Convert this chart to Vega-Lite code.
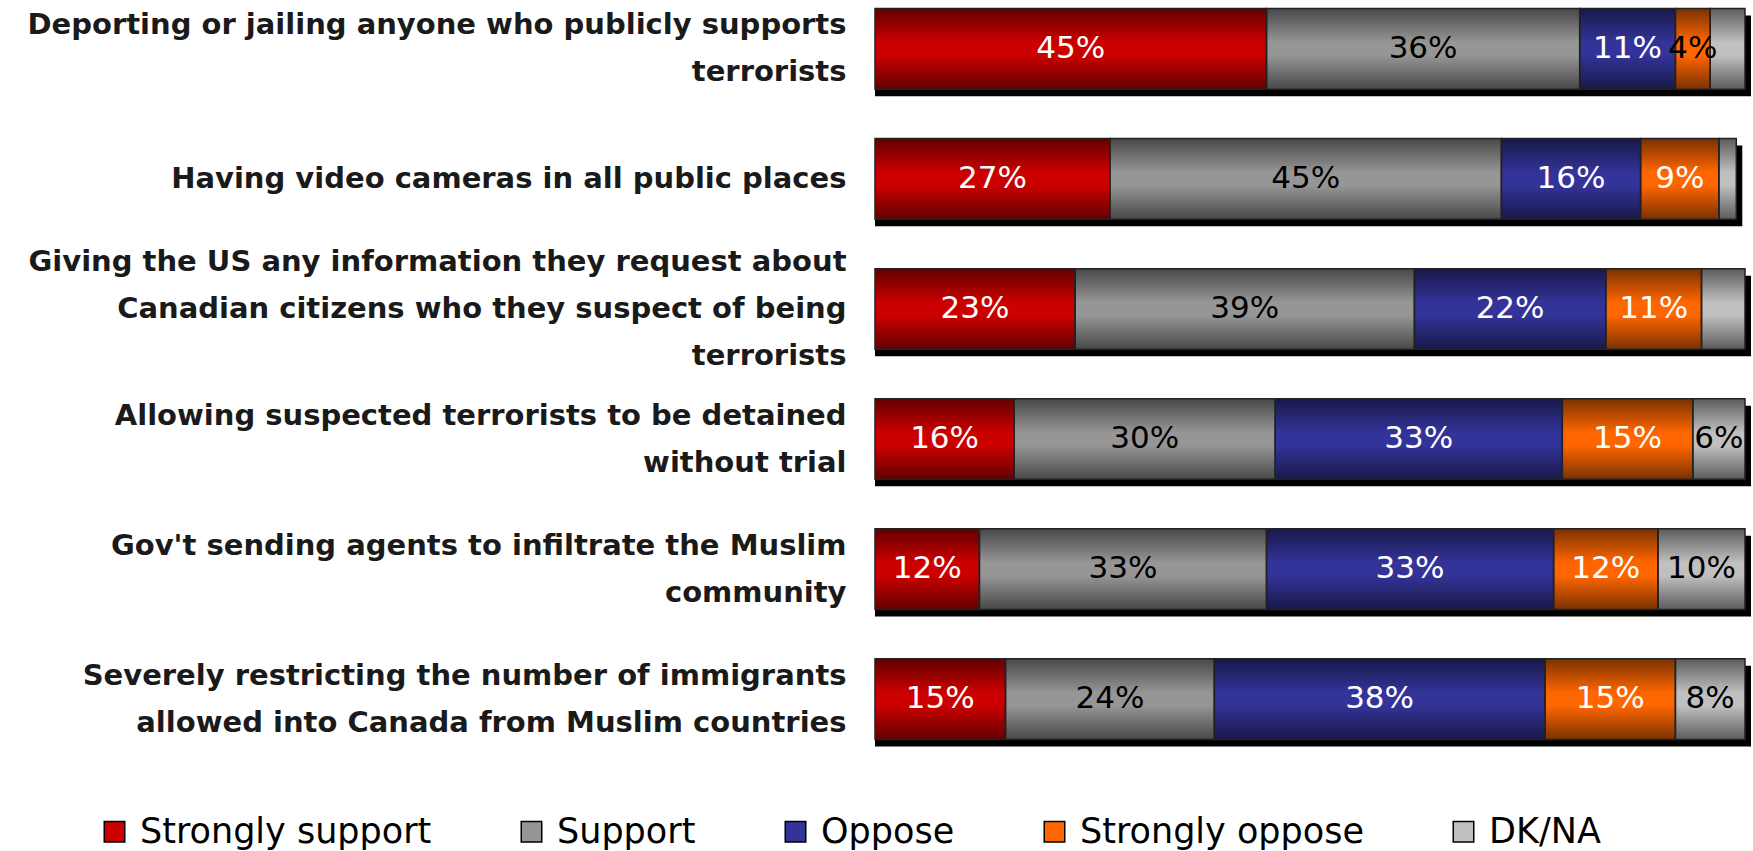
{
  "$schema": "https://vega.github.io/schema/vega-lite/v6.json",
  "autosize": {"type": "none"},
  "padding": {"left": 875, "top": 2, "right": 8, "bottom": 105},
  "width": 870,
  "height": 744,
  "background": "white",
  "config": {"view": {"stroke": null}, "font": "DejaVu Sans"},
  "data": {
    "values": [
      {"q": "Deporting or jailing anyone who publicly supports|terrorists", "cat": "Strongly support", "k": 1, "value": 45},
      {"q": "Deporting or jailing anyone who publicly supports|terrorists", "cat": "Support", "k": 2, "value": 36},
      {"q": "Deporting or jailing anyone who publicly supports|terrorists", "cat": "Oppose", "k": 3, "value": 11},
      {"q": "Deporting or jailing anyone who publicly supports|terrorists", "cat": "Strongly oppose", "k": 4, "value": 4},
      {"q": "Deporting or jailing anyone who publicly supports|terrorists", "cat": "DK/NA", "k": 5, "value": 4},
      {"q": "Having video cameras in all public places", "cat": "Strongly support", "k": 1, "value": 27},
      {"q": "Having video cameras in all public places", "cat": "Support", "k": 2, "value": 45},
      {"q": "Having video cameras in all public places", "cat": "Oppose", "k": 3, "value": 16},
      {"q": "Having video cameras in all public places", "cat": "Strongly oppose", "k": 4, "value": 9},
      {"q": "Having video cameras in all public places", "cat": "DK/NA", "k": 5, "value": 2},
      {"q": "Giving the US any information they request about|Canadian citizens who they suspect of being|terrorists", "cat": "Strongly support", "k": 1, "value": 23},
      {"q": "Giving the US any information they request about|Canadian citizens who they suspect of being|terrorists", "cat": "Support", "k": 2, "value": 39},
      {"q": "Giving the US any information they request about|Canadian citizens who they suspect of being|terrorists", "cat": "Oppose", "k": 3, "value": 22},
      {"q": "Giving the US any information they request about|Canadian citizens who they suspect of being|terrorists", "cat": "Strongly oppose", "k": 4, "value": 11},
      {"q": "Giving the US any information they request about|Canadian citizens who they suspect of being|terrorists", "cat": "DK/NA", "k": 5, "value": 5},
      {"q": "Allowing suspected terrorists to be detained|without trial", "cat": "Strongly support", "k": 1, "value": 16},
      {"q": "Allowing suspected terrorists to be detained|without trial", "cat": "Support", "k": 2, "value": 30},
      {"q": "Allowing suspected terrorists to be detained|without trial", "cat": "Oppose", "k": 3, "value": 33},
      {"q": "Allowing suspected terrorists to be detained|without trial", "cat": "Strongly oppose", "k": 4, "value": 15},
      {"q": "Allowing suspected terrorists to be detained|without trial", "cat": "DK/NA", "k": 5, "value": 6},
      {"q": "Gov't sending agents to infiltrate the Muslim|community", "cat": "Strongly support", "k": 1, "value": 12},
      {"q": "Gov't sending agents to infiltrate the Muslim|community", "cat": "Support", "k": 2, "value": 33},
      {"q": "Gov't sending agents to infiltrate the Muslim|community", "cat": "Oppose", "k": 3, "value": 33},
      {"q": "Gov't sending agents to infiltrate the Muslim|community", "cat": "Strongly oppose", "k": 4, "value": 12},
      {"q": "Gov't sending agents to infiltrate the Muslim|community", "cat": "DK/NA", "k": 5, "value": 10},
      {"q": "Severely restricting the number of immigrants|allowed into Canada from Muslim countries", "cat": "Strongly support", "k": 1, "value": 15},
      {"q": "Severely restricting the number of immigrants|allowed into Canada from Muslim countries", "cat": "Support", "k": 2, "value": 24},
      {"q": "Severely restricting the number of immigrants|allowed into Canada from Muslim countries", "cat": "Oppose", "k": 3, "value": 38},
      {"q": "Severely restricting the number of immigrants|allowed into Canada from Muslim countries", "cat": "Strongly oppose", "k": 4, "value": 15},
      {"q": "Severely restricting the number of immigrants|allowed into Canada from Muslim countries", "cat": "DK/NA", "k": 5, "value": 8}
    ]
  },
  "encoding": {
    "y": {
      "field": "q", "type": "nominal", "sort": null,
      "scale": {"paddingInner": 0.38, "paddingOuter": 0.05},
      "axis": {
        "title": null, "domain": false, "ticks": false,
        "labelExpr": "split(datum.value, '|')",
        "labelFontSize": 29, "labelFontWeight": "bold", "labelColor": "#1a1a1a", "labelPadding": 29,
        "labelLineHeight": 47, "labelLimit": 0, "labelFont": "DejaVu Sans",
        "labelBaseline": "middle",
        "labelOffset": {
          "condition": [
            {"test": "length(split(datum.value, '|')) == 3", "value": -47},
            {"test": "length(split(datum.value, '|')) == 2", "value": -23.5}
          ],
          "value": 0
        }
      }
    }
  },
  "layer": [
    {
      "mark": {"type": "bar", "fill": "#000", "xOffset": 6, "yOffset": 7},
      "encoding": {
        "x": {"aggregate": "sum", "field": "value", "type": "quantitative", "scale": {"domain": [0, 100]}, "axis": null}
      }
    },
    {
      "mark": {"type": "bar"},
      "encoding": {
        "x": {"field": "value", "type": "quantitative", "stack": "zero", "scale": {"domain": [0, 100]}, "axis": null},
        "order": {"field": "k", "type": "quantitative"},
        "fill": {
          "field": "cat", "type": "nominal",
          "scale": {
            "domain": ["Strongly support", "Support", "Oppose", "Strongly oppose", "DK/NA"],
            "range": ["#cc0000", "#969696", "#333399", "#ff6600", "#c0c0c0"]
          },
          "legend": {
            "title": null, "orient": "none", "legendX": -778, "legendY": 812,
            "direction": "horizontal", "columns": 5, "columnPadding": 82,
            "symbolType": "square", "symbolSize": 420, "symbolStrokeColor": "#000", "symbolStrokeWidth": 1.5,
            "labelFontSize": 35, "labelColor": "#000", "labelOffset": 8, "labelFont": "DejaVu Sans", "labelLimit": 0
          }
        }
      }
    },
    {
      "mark": {
        "type": "bar", "stroke": "#222", "strokeWidth": 1.5,
        "fill": {"gradient": "linear", "x1": 0, "y1": 0, "x2": 0, "y2": 1, "stops": [
          {"offset": 0, "color": "rgba(0,0,0,0.52)"},
          {"offset": 0.42, "color": "rgba(0,0,0,0)"},
          {"offset": 0.58, "color": "rgba(0,0,0,0)"},
          {"offset": 1, "color": "rgba(0,0,0,0.52)"}
        ]}
      },
      "encoding": {
        "x": {"field": "value", "type": "quantitative", "stack": "zero", "scale": {"domain": [0, 100]}, "axis": null},
        "order": {"field": "k", "type": "quantitative"},
        "detail": {"field": "cat"}
      }
    },
    {
      "transform": [
        {"stack": "value", "groupby": ["q"], "sort": [{"field": "k", "order": "ascending"}], "as": ["x0", "x1"]},
        {"filter": "datum.cat != 'DK/NA' || datum.value >= 6"},
        {"calculate": "(datum.x0 + datum.x1) / 2", "as": "mid"},
        {"calculate": "datum.value + '%'", "as": "lbl"}
      ],
      "mark": {"type": "text", "fontSize": 31, "font": "DejaVu Sans", "align": "center", "baseline": "middle"},
      "encoding": {
        "x": {"field": "mid", "type": "quantitative", "scale": {"domain": [0, 100]}, "axis": null},
        "text": {"field": "lbl"},
        "color": {
          "condition": {"test": "datum.cat == 'Support' || datum.cat == 'DK/NA' || datum.value < 5", "value": "#000"},
          "value": "#fff"
        }
      }
    }
  ]
}
